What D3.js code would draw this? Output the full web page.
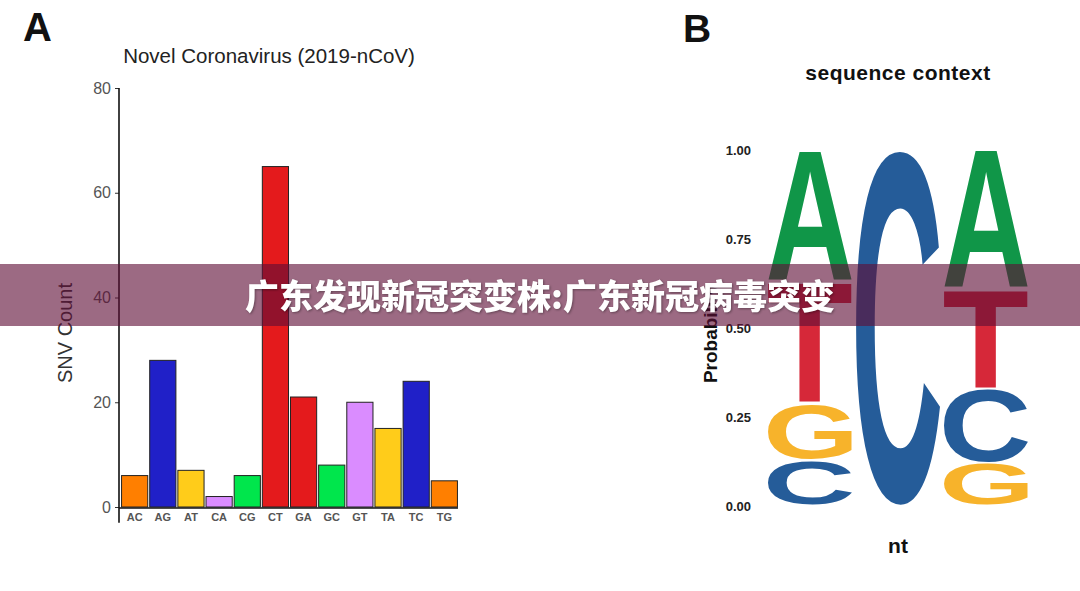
<!DOCTYPE html>
<html>
<head>
<meta charset="utf-8">
<script src="https://cdn.jsdelivr.net/npm/d3@7"></script>
<style>
  html, body { margin: 0; padding: 0; background: #fff; }
  svg { display: block; font-family: "Liberation Sans", Arial, sans-serif; }
</style>
</head>
<body>
<div id="chart"></div>
<script>
// panel A: SNV counts by substitution
const subs = ['AC', 'AG', 'AT', 'CA', 'CG', 'CT', 'GA', 'GC', 'GT', 'TA', 'TC', 'TG'];
const snvCounts = [6, 28, 7, 2, 6, 65, 21, 8, 20, 15, 24, 5];
const subColors = ['#ff7f00', '#2020c8', '#ffcc1a', '#da8cff', '#00e64c', '#e41a1c',
                   '#e41a1c', '#00e64c', '#da8cff', '#ffcc1a', '#2020c8', '#ff7f00'];
const countTicks = [0, 20, 40, 60, 80];

// panel B: sequence logo, letters stacked bottom -> top
const positions = [1, 2, 3];
const logoStacks = [
  [['C', 0.13], ['G', 0.16], ['T', 0.34], ['A', 0.37]],
  [['C', 1.0]],
  [['G', 0.12], ['C', 0.21], ['T', 0.28], ['A', 0.39]]
];
const probTicks = [0, 0.25, 0.5, 0.75, 1];
const nucColors = {A: '#109648', C: '#255c99', G: '#f7b32b', T: '#d62839'};

const bannerText = '广东发现新冠突变株:广东新冠病毒突变';

const W = 1080, H = 591;
const svg = d3.select('#chart').append('svg')
  .attr('width', W).attr('height', H)
  .attr('viewBox', [0, 0, W, H]);

// ---------- panel A ----------
const x = d3.scaleBand().domain(subs).range([121, 458]).paddingInner(0.07).paddingOuter(0.02);
const y = d3.scaleLinear().domain([0, 80]).range([507, 88]);

const gA = svg.append('g');

gA.append('text').attr('x', 23).attr('y', 41)
  .attr('font-size', 40).attr('font-weight', 'bold').attr('fill', '#111').text('A');

gA.append('text').attr('x', 269).attr('y', 63).attr('text-anchor', 'middle')
  .attr('font-size', 20.5).attr('fill', '#222').text('Novel Coronavirus (2019-nCoV)');

gA.append('g').selectAll('rect')
  .data(subs).join('rect')
  .attr('x', d => x(d))
  .attr('y', (d, i) => y(snvCounts[i]))
  .attr('width', x.bandwidth())
  .attr('height', (d, i) => y(0) - y(snvCounts[i]))
  .attr('fill', (d, i) => subColors[i])
  .attr('stroke', '#222').attr('stroke-width', 1);

// baseline
gA.append('line').attr('x1', 119).attr('x2', 458).attr('y1', y(0) + 1).attr('y2', y(0) + 1)
  .attr('stroke', '#111').attr('stroke-width', 1.6);

const yAxis = gA.append('g').attr('transform', 'translate(119,0)')
  .call(d3.axisLeft(y).tickValues(countTicks).tickSize(4).tickPadding(4).tickSizeOuter(0));
yAxis.select('.domain').remove();
yAxis.selectAll('.tick line').attr('stroke', '#333');
yAxis.selectAll('.tick text').attr('font-size', 16).attr('fill', '#555')
  .attr('font-family', '"Liberation Sans", Arial, sans-serif');
gA.append('line').attr('x1', 119).attr('x2', 119).attr('y1', y(80)).attr('y2', y(-3))
  .attr('stroke', '#111').attr('stroke-width', 1.6);

gA.append('g').selectAll('text')
  .data(subs).join('text')
  .attr('x', d => x(d) + x.bandwidth() / 2)
  .attr('y', 521)
  .attr('text-anchor', 'middle')
  .attr('font-size', 11).attr('font-weight', 'bold').attr('fill', '#555')
  .text(d => d);

gA.append('text')
  .attr('transform', 'translate(72,333) rotate(-90)')
  .attr('text-anchor', 'middle')
  .attr('font-size', 20).attr('fill', '#333').text('SNV Count');

// ---------- panel B ----------
const px = d3.scaleBand().domain(positions).range([766, 1030]).paddingInner(0.045).paddingOuter(0.0225);
const py = d3.scaleLinear().domain([0, 1]).range([506, 150]);

const gB = svg.append('g');

gB.append('text').attr('x', 683).attr('y', 42)
  .attr('font-size', 39).attr('font-weight', 'bold').attr('fill', '#111').text('B');

gB.append('text').attr('x', 898).attr('y', 80).attr('text-anchor', 'middle')
  .attr('font-size', 21).attr('font-weight', 'bold').attr('fill', '#111')
  .attr('letter-spacing', 0.5).text('sequence context');

gB.append('g').selectAll('text')
  .data(probTicks).join('text')
  .attr('x', 751).attr('y', d => py(d) + 4.5)
  .attr('text-anchor', 'end')
  .attr('font-size', 13).attr('font-weight', 'bold').attr('fill', '#222')
  .text(d => d3.format('.2f')(d));

gB.append('text')
  .attr('transform', 'translate(717,334) rotate(-90)')
  .attr('text-anchor', 'middle')
  .attr('font-size', 19).attr('font-weight', 'bold').attr('fill', '#111').text('Probability');

gB.append('text').attr('x', 898).attr('y', 553).attr('text-anchor', 'middle')
  .attr('font-size', 21).attr('font-weight', 'bold').attr('fill', '#111').text('nt');

// measure ink box of each glyph so it can be stretched into its cell
const LF = 'bold 200px "Liberation Sans", Arial, sans-serif';
const ctx = document.createElement('canvas').getContext('2d');
ctx.font = LF;
const ink = {};
'ACGT'.split('').forEach(ch => {
  const m = ctx.measureText(ch);
  ink[ch] = {l: m.actualBoundingBoxLeft, r: m.actualBoundingBoxRight,
             a: m.actualBoundingBoxAscent, d: m.actualBoundingBoxDescent};
});

const cells = [];
logoStacks.forEach((stack, i) => {
  let base = 0;
  stack.forEach(([ch, p]) => {
    cells.push({pos: positions[i], ch, y0: base, y1: base + p});
    base += p;
  });
});

gB.append('g').selectAll('text')
  .data(cells).join('text')
  .attr('font-size', 200).attr('font-weight', 'bold')
  .attr('fill', d => nucColors[d.ch])
  .attr('transform', d => {
    const b = ink[d.ch];
    const gap = 1.2;
    const top = py(d.y1) + gap, bot = py(d.y0) - gap;
    const sx = px.bandwidth() / (b.l + b.r);
    const sy = (bot - top) / (b.a + b.d);
    return `translate(${px(d.pos)},${top}) scale(${sx},${sy}) translate(${b.l},${b.a})`;
  })
  .text(d => d.ch);

// ---------- banner overlay ----------
svg.append('rect').attr('x', 0).attr('y', 264).attr('width', W).attr('height', 62)
  .attr('fill', 'rgb(95,15,55)').attr('fill-opacity', 0.62);

svg.append('text').attr('x', 540).attr('y', 309)
  .attr('text-anchor', 'middle')
  .attr('font-family', '"Noto Sans CJK SC", sans-serif')
  .attr('font-size', 34).attr('font-weight', 900).attr('fill', '#fff')
  .style('filter', 'drop-shadow(1px 1px 1px rgba(0,0,0,0.35))')
  .text(bannerText);
</script>
</body>
</html>
